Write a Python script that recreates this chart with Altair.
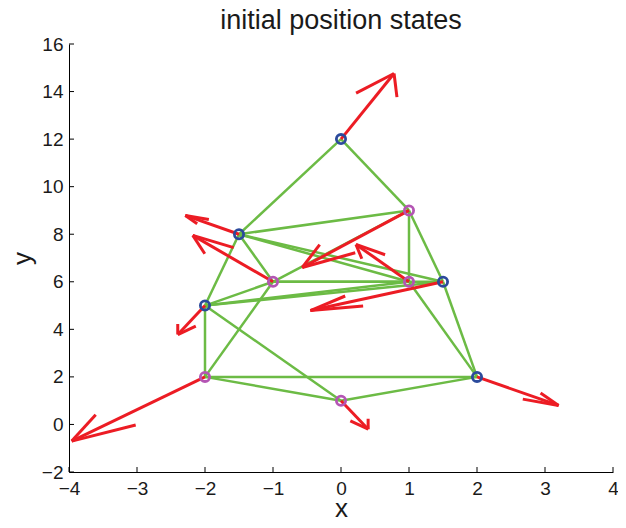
import altair as alt
import pandas as pd

# ---- data ----
node_x = [0, -1.5, 1.5, -2, 2, 1, -1, 1, -2, 0]
node_y = [12, 8, 6, 5, 2, 9, 6, 6, 2, 1]
node_group = ["leader"] * 5 + ["follower"] * 5

# arrow tips (quiver end points)
tip_x = [0.78, -2.29, -0.45, -2.40, 3.20, -0.57, -2.18, 0.22, -3.96, 0.40]
tip_y = [14.76, 8.79, 4.79, 3.78, 0.80, 6.60, 7.95, 7.57, -0.70, -0.20]

edge_from = [0, 0, 1, 1, 1, 1, 1, 5, 5, 5, 6, 6, 3, 3, 3, 3, 3, 6, 2, 7, 8, 8, 9]
edge_to   = [1, 5, 5, 7, 2, 6, 3, 7, 2, 6, 7, 2, 6, 7, 2, 8, 9, 8, 4, 4, 4, 9, 4]

x_ticks = [-4, -3, -2, -1, 0, 1, 2, 3, 4]
y_ticks = [-2, 0, 2, 4, 6, 8, 10, 12, 14, 16]

W, H = 544, 428
GREEN = "#6cbb45"
RED = "#ec1c24"

nodes = pd.DataFrame({"x": node_x, "y": node_y, "g": node_group})
edges = pd.DataFrame({
    "x": [node_x[i] for i in edge_from], "y": [node_y[i] for i in edge_from],
    "x2": [node_x[j] for j in edge_to], "y2": [node_y[j] for j in edge_to],
})
shafts = pd.DataFrame({"x": node_x, "y": node_y, "x2": tip_x, "y2": tip_y})

# MATLAB quiver-style arrowheads (alpha = beta = 0.33, in data units)
a = b = 0.33
rows = []
for x0, y0, xt, yt in zip(node_x, node_y, tip_x, tip_y):
    u, v = xt - x0, yt - y0
    rows.append({"x": xt, "y": yt, "x2": xt - a * (u + b * v), "y2": yt - a * (v - b * u)})
    rows.append({"x": xt, "y": yt, "x2": xt - a * (u - b * v), "y2": yt - a * (v + b * u)})
heads = pd.DataFrame(rows)

xs = alt.Scale(domain=[-4, 4], nice=False, zero=False)
ys = alt.Scale(domain=[-2, 16], nice=False, zero=False)

lab = "replace(datum.label, '-', '\u2212')"
xax = alt.Axis(values=x_ticks, format="d", ticks=False, grid=False, labelPadding=7, title="x",
               titlePadding=-3, labelExpr=lab, labelFlush=False, labelOverlap=False)
yax = alt.Axis(values=y_ticks, format="d", ticks=False, grid=False, labelPadding=6, title="y",
               titlePadding=6, labelExpr=lab, titleAngle=-90, labelFlush=False,
               labelOverlap=False)

X = alt.X("x:Q", scale=xs, axis=xax)
Y = alt.Y("y:Q", scale=ys, axis=yax)

edge_layer = alt.Chart(edges).mark_rule(color=GREEN, strokeWidth=2.5).encode(
    x=X, y=Y, x2="x2:Q", y2="y2:Q")
shaft_layer = alt.Chart(shafts).mark_rule(color=RED, strokeWidth=3).encode(
    x="x:Q", y="y:Q", x2="x2:Q", y2="y2:Q")
head_layer = alt.Chart(heads).mark_rule(color=RED, strokeWidth=3).encode(
    x="x:Q", y="y:Q", x2="x2:Q", y2="y2:Q")
node_layer = alt.Chart(nodes).mark_point(shape="circle", filled=False, size=85,
                                         strokeWidth=2.8, opacity=1).encode(
    x="x:Q", y="y:Q",
    stroke=alt.Stroke("g:N", scale=alt.Scale(domain=["leader", "follower"],
                                             range=["#2b4a9c", "#b455b4"]), legend=None))

xtick_layer = alt.Chart(pd.DataFrame({"x": x_ticks})).mark_rule(color="black", strokeWidth=1).encode(
    x="x:Q", y=alt.value(H), y2=alt.value(H - 5))
ytick_layer = alt.Chart(pd.DataFrame({"y": y_ticks})).mark_rule(color="black", strokeWidth=1).encode(
    y="y:Q", x=alt.value(0), x2=alt.value(5))

chart = alt.layer(edge_layer, shaft_layer, head_layer, node_layer, xtick_layer, ytick_layer).properties(
    width=W, height=H,
    title=alt.TitleParams("initial position states", fontSize=27, font="Liberation Sans",
                          fontWeight="normal", color="#1a1a1a", anchor="middle", offset=0),
    autosize=alt.AutoSizeParams(type="none"),
    padding={"left": 61, "top": 36, "right": 5, "bottom": 48},
).configure_view(stroke=None).configure_axis(
    domainColor="black", domainWidth=1,
    labelFont="Liberation Sans", labelFontSize=19, labelColor="#1a1a1a",
    titleFont="Liberation Sans", titleFontSize=26, titleFontWeight="normal", titleColor="#1a1a1a",
)

chart.save("out.html", embed_options={"renderer": "svg", "actions": False})
